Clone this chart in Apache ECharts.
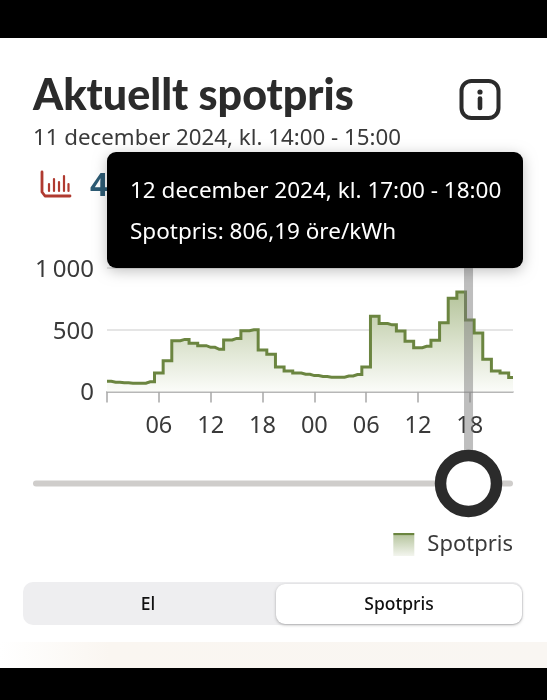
<!DOCTYPE html>
<html><head><meta charset="utf-8">
<style>html,body{margin:0;padding:0;background:#fff}#c{width:547px;height:700px}</style>
<script src="https://cdn.jsdelivr.net/npm/echarts@6/dist/echarts.min.js"></script>
</head><body><div id="c"></div>
<script>
const seriesName = 'Spotpris';
const hours = [0,1,2,3,4,5,6,7,8,9,10,11,12,13,14,15,16,17,18,19,20,21,22,23,24,25,26,27,28,29,30,31,32,33,34,35,36,37,38,39,40,41,42,43,44,45,46,47];
const prices = [83,75,70,67,67,78,150,250,411,422,390,371,358,342,417,430,492,500,336,301,199,167,150,140,129,121,116,116,126,137,199,610,551,540,490,406,355,366,414,557,756,806.19,578,473,261,167,150,113];
const xTickLabels = {6:'06',12:'12',18:'18',24:'00',30:'06',36:'12',42:'18'};
const yTickLabels = {0:'0',500:'500',1000:'1\u2009000'};
const cursorHour = 41.85;
const title = 'Aktuellt spotpris';
const subtitle = '11 december 2024, kl. 14:00 - 15:00';
const tipLine1 = '12 december 2024, kl. 17:00 - 18:00';
const tipLine2 = 'Spotpris: 806,19 öre/kWh';

const FONT = '"Noto Sans", sans-serif';
const TITLEFONT = 'Lato, "Noto Sans", sans-serif';
const DARK = '#2b2b2b';
const chart = echarts.init(document.getElementById('c'), null, {renderer:'canvas', width:547, height:700});
const areaFill = {type:'linear',x:0,y:0,x2:0,y2:1,colorStops:[{offset:0,color:'#b4c39a'},{offset:0.55,color:'#dde4d0'},{offset:1,color:'#fbfcf9'}]};
const legendFill = {type:'linear',x:0,y:0,x2:0,y2:1,colorStops:[{offset:0,color:'#6b8540'},{offset:0.1,color:'#6b8540'},{offset:0.11,color:'#b9c7a2'},{offset:1,color:'#f3f5ee'}]};

chart.setOption({
  animation:false,
  backgroundColor:'#fff',
  grid:{left:107,right:34,top:268,bottom:308.5,containLabel:false},
  legend:{show:true,right:34,top:533,padding:0,icon:'rect',itemWidth:21,itemHeight:23,itemGap:0,
    data:[{name:seriesName,itemStyle:{color:legendFill,borderWidth:0}}],
    textStyle:{fontFamily:FONT,fontSize:22,color:'#3a3a3a',padding:[0,0,0,8]},inactiveColor:'#999',selectedMode:false},
  xAxis:{type:'value',min:0,max:47,interval:6,
    axisLine:{show:true,lineStyle:{color:'#a8a8a8',width:1.5}},
    axisTick:{show:true,length:11,lineStyle:{color:'#a8a8a8',width:1.5}},
    splitLine:{show:false},
    axisLabel:{show:true,margin:23,fontFamily:FONT,fontSize:23.5,color:'#3a3a3a',showMinLabel:true,showMaxLabel:false,
      formatter:v=>xTickLabels[v]||''}},
  yAxis:{type:'value',min:0,max:1000,interval:500,
    axisLine:{show:false},axisTick:{show:false},
    splitLine:{show:true,lineStyle:{color:'#dddddd',width:1.5}},
    axisLabel:{margin:13,fontFamily:FONT,fontSize:24,color:'#3a3a3a',verticalAlign:'top',lineHeight:4,formatter:v=>yTickLabels[v]}},
  series:[{name:seriesName,type:'line',step:'middle',symbol:'none',
    data:hours.map((h,i)=>[h,prices[i]]),
    lineStyle:{color:'#6b8540',width:3,join:'miter'},
    itemStyle:{color:'#6b8540'},
    areaStyle:{color:areaFill,opacity:1},z:2}]
});

const bx = chart.convertToPixel({xAxisIndex:0}, cursorHour);
const T=(x,y,text,size,color,weight,align,font)=>({type:'text',z:50,style:{x,y,text,fontFamily:font||FONT,fontSize:size,fill:color,fontWeight:weight||'normal',align:align||'left',verticalAlign:'middle'}});
const R=(x,y,w,h,r,fill,extra)=>Object.assign({type:'rect',z:50,shape:{x,y,width:w,height:h,r},style:Object.assign({fill},extra||{})});
const L=(x1,y1,x2,y2,c,w)=>({type:'line',z:50,shape:{x1,y1,x2,y2},style:{stroke:c,lineWidth:w,lineCap:'round'}});
const RED='#b03a30';
chart.setOption({graphic:{elements:[
  R(0,0,547,38,0,'#000'),
  R(0,668,547,32,0,'#000'),
  R(0,642,547,26,0,{type:'linear',x:0,y:0,x2:1,y2:0,colorStops:[{offset:0,color:'#ffffff'},{offset:0.2,color:'#faf6f1'},{offset:1,color:'#f9f6f2'}]}),
  T(33,96,title,43,DARK,'900','left',TITLEFONT),
  T(33,139,subtitle,22.3,'#3a3a3a'),
  {type:'rect',z:50,shape:{x:461.5,y:81,width:37,height:37,r:10},style:{fill:'none',stroke:DARK,lineWidth:4}},
  {type:'circle',z:50,shape:{cx:480,cy:92,r:2.6},style:{fill:DARK}},
  L(480,98.5,480,108,DARK,4.6),
  {type:'polyline',z:50,shape:{points:[[42,172],[42,192],[45,196],[70,196]]},style:{fill:'none',stroke:RED,lineWidth:2.8,lineCap:'round',lineJoin:'round'}},
  L(49,184,49,191,RED,2.2),L(54,179,54,191,RED,2.2),L(59,182,59,191,RED,2.2),L(64,176,64,191,RED,2.2),L(68.5,184,68.5,191,RED,2.2),
  T(90,187,'4',32,'#2c5a73','bold'),
  R(bx-4.5,262,9,195,3,'rgba(125,125,125,0.5)'),
  R(33,480.5,480,6,3,'#cfcdcb'),
  {type:'circle',z:52,shape:{cx:bx,cy:483.5,r:28},style:{fill:'#fff',stroke:DARK,lineWidth:11.5}},
  R(107,152,416,116,9,'#000',{shadowBlur:14,shadowColor:'rgba(0,0,0,0.25)',shadowOffsetY:3}),
  T(130,192,tipLine1,22.5,'#fff'),
  T(130,233,tipLine2,22.5,'#fff'),
  R(23,582,500,43,10,'#eeeef0'),
  R(276,584,246,40,9,'#fff',{shadowBlur:3,shadowColor:'rgba(0,0,0,0.3)',shadowOffsetY:1}),
  T(148,605,'El',17.5,'#111','500','center'),
  T(399,605,seriesName,17.5,'#111','500','center')
]}});
</script></body></html>
